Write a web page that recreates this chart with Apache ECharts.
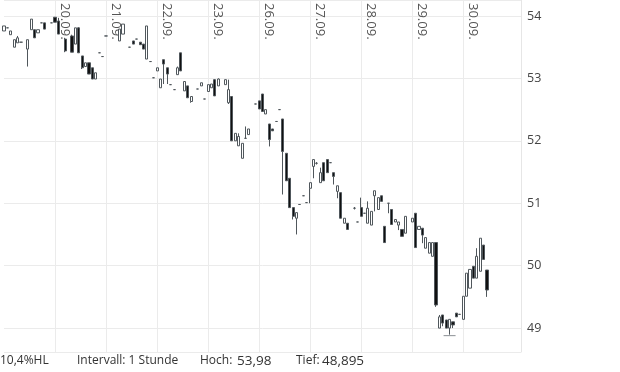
<!DOCTYPE html>
<html><head><meta charset="utf-8">
<script src="https://cdn.jsdelivr.net/npm/echarts@6/dist/echarts.min.js"></script>
<style>html,body{margin:0;padding:0;background:#fff}#c{width:620px;height:372px}</style>
</head><body><div id="c"></div>
<script>
// tick labels (one per trading day) and hourly slots per day
const days = ['19.09.','20.09.','21.09.','22.09.','23.09.','26.09.','27.09.','28.09.','29.09.','30.09.'];
const hours = [8,9,10,11,12,13,14,15,16,17,18,19,20,21,22];
const padSlots = 3;

// candles: slot index, open, close, low, high
const slots = [0,1,2,3,4,5,7,8,9,10,11,12,14,
 15,16,18,20,21,22,23,24,25,26,27,28,29,
 30,34,35,37,38,39,40,41,42,43,44,
 45,46,47,48,49,50,51,52,53,54,55,57,58,59,
 60,61,62,63,65,66,67,68,69,70,71,72,74,
 75,76,77,78,79,80,81,82,83,84,85,86,87,88,89,
 90,91,92,93,94,95,96,97,98,99,100,101,103,104,
 105,106,107,108,109,110,111,112,113,114,115,116,117,118,
 120,121,122,123,124,125,126,127,128,129,130,131,132,133,134,
 135,136,137,138,139,140,141,142];
const opens = [53.76,53.81,53.70,53.50,53.57,53.58,53.47,53.78,53.78,53.73,53.89,53.89,53.89,
 53.98,53.92,53.63,53.68,53.55,53.81,53.36,53.19,53.25,53.17,52.99,53.41,53.35,
 53.68,53.60,53.71,53.50,53.60,53.63,53.58,53.55,53.31,53.27,53.01,
 53.12,52.85,53.30,53.17,52.90,52.82,53.06,53.41,52.80,52.88,52.63,52.83,52.88,52.67,
 52.79,52.85,52.98,52.88,52.90,52.61,52.71,52.00,51.92,51.72,52.04,52.10,52.59,
 52.64,52.75,52.43,52.27,52.19,52.31,52.50,52.35,51.80,51.40,50.93,50.76,50.98,51.12,51.01,
 51.24,51.59,51.64,51.33,51.65,51.70,51.65,51.49,51.19,51.17,50.68,50.68,50.92,50.70,
 50.93,50.84,50.68,50.65,51.12,50.90,51.12,50.63,51.00,50.90,50.70,50.65,50.58,50.52,
 50.70,50.84,50.58,50.60,50.28,50.20,50.15,50.37,49.00,49.21,49.13,49.00,49.10,49.24,49.22,
 49.14,49.51,49.64,49.99,49.80,49.91,50.33,49.93];
const closes = [53.84,53.81,53.76,53.62,53.65,53.58,53.62,53.95,53.65,53.78,53.89,53.79,53.89,
 53.90,53.71,53.44,53.42,53.81,53.41,53.17,53.25,53.07,52.99,53.09,53.41,53.35,
 53.68,53.79,53.87,53.50,53.55,53.63,53.54,53.47,53.84,53.27,53.01,
 53.17,52.99,53.23,53.07,52.90,52.82,53.17,53.12,52.95,52.69,52.71,52.83,52.93,52.67,
 52.90,52.91,52.72,52.99,52.98,52.82,52.00,52.12,52.07,51.96,52.04,52.19,52.59,
 52.51,52.47,52.50,52.02,52.16,52.31,52.50,51.83,51.36,50.93,50.79,50.85,50.98,51.12,51.01,
 51.33,51.70,51.64,51.49,51.36,51.49,51.65,51.43,51.28,50.76,50.76,50.58,50.92,50.70,
 50.79,50.84,50.92,50.87,51.20,51.09,51.03,50.37,51.00,50.66,50.74,50.70,50.47,50.79,
 50.76,50.29,50.63,50.49,50.45,50.37,50.37,49.37,49.18,49.08,49.00,49.14,49.05,49.18,49.22,
 49.51,49.88,49.94,49.80,50.15,50.44,50.10,49.61];
const lows = [53.76,53.81,53.70,53.50,53.57,53.58,53.19,53.78,53.65,53.73,53.89,53.79,53.89,
 53.90,53.71,53.42,53.42,53.55,53.41,53.15,53.19,53.07,52.99,52.99,53.41,53.35,
 53.68,53.60,53.71,53.50,53.55,53.63,53.54,53.47,53.31,53.27,53.01,
 53.12,52.85,52.91,52.91,52.90,52.82,53.06,53.12,52.80,52.69,52.61,52.83,52.88,52.67,
 52.79,52.85,52.72,52.88,52.90,52.59,52.00,52.00,51.92,51.72,52.04,52.10,52.59,
 52.51,52.47,52.43,51.91,52.16,52.31,52.50,51.14,51.36,50.93,50.74,50.50,50.98,51.12,51.01,
 51.00,51.40,51.62,51.33,51.36,51.49,51.65,51.30,51.08,50.76,50.68,50.58,50.90,50.70,
 50.79,50.84,50.68,50.65,50.87,50.90,51.03,50.37,50.84,50.66,50.70,50.57,50.47,50.52,
 50.70,50.29,50.58,50.36,50.28,50.20,50.15,49.34,49.00,49.03,49.00,48.895,49.00,49.18,49.22,
 49.14,49.51,49.64,49.80,49.80,49.91,50.10,49.50];
const highs = [53.84,53.81,53.76,53.62,53.68,53.58,53.62,53.95,53.78,53.78,53.89,53.89,53.89,
 53.98,53.97,53.65,53.70,53.81,53.82,53.36,53.25,53.25,53.17,53.09,53.41,53.35,
 53.68,53.79,53.87,53.50,53.60,53.63,53.58,53.55,53.84,53.27,53.01,
 53.17,52.99,53.30,53.17,52.90,52.82,53.19,53.41,52.95,52.88,52.71,52.83,52.93,52.67,
 52.90,52.91,52.99,53.00,52.98,52.98,52.71,52.12,52.12,51.96,52.23,52.19,52.59,
 52.64,52.75,52.50,52.27,52.19,52.31,52.50,52.35,51.80,51.40,50.93,50.85,50.98,51.12,51.01,
 51.33,51.70,51.66,51.57,51.65,51.70,51.65,51.49,51.28,51.17,50.76,50.68,50.94,50.70,
 51.09,50.84,51.03,50.87,51.20,51.09,51.12,50.63,51.00,50.90,50.74,50.70,50.58,50.79,
 50.76,50.84,50.63,50.60,50.45,50.37,50.37,50.37,49.21,49.21,49.13,49.14,49.10,49.24,49.22,
 49.51,49.88,49.94,49.99,50.28,50.44,50.33,49.93];

// footer texts
const footerTexts = ['10,4%HL', 'Intervall: 1 Stunde', 'Hoch:', '53,98', 'Tief:', '48,895'];
const footerLeft = [0, 77, 200, 237, 296, 322];
const footerSize = [12, 12, 12, 13.5, 12, 13.5];

const categories = [];
days.forEach(d => hours.forEach(h => categories.push(d + ' ' + (h < 10 ? '0' : '') + h + ':00')));
for (let i = 0; i < padSlots; i++) categories.push('');
const slotsPerDay = hours.length;

const candles = categories.map(() => '-');
slots.forEach((s, k) => { candles[s] = [opens[k], closes[k], lows[k], highs[k]]; });

const dayStart = (idx) => idx > 0 && idx % slotsPerDay === 0 && idx < days.length * slotsPerDay;

const chart = echarts.init(document.getElementById('c'), null, {renderer: 'canvas'});
chart.setOption({
  animation: false,
  backgroundColor: '#fff',
  title: footerTexts.map((t, i) => ({
    text: t, left: footerLeft[i], top: 363 - Math.round(footerSize[i] * 0.7), padding: 0,
    textStyle: {fontSize: footerSize[i], fontWeight: 'normal', color: '#333', fontFamily: 'Open Sans'}
  })),
  grid: {left: 4, right: 99, top: -1, bottom: 20, containLabel: false},
  xAxis: {
    type: 'category', data: categories, boundaryGap: false, position: 'top',
    axisLine: {show: false}, axisTick: {show: false},
    axisLabel: {
      inside: true, rotate: 90, interval: dayStart, margin: 3,
      formatter: v => v.split(' ')[0], padding: [0, 0, 3, 0],
      color: '#555', fontSize: 13, fontFamily: 'Open Sans', verticalAlign: 'bottom'
    },
    splitLine: {show: true, interval: dayStart, lineStyle: {color: '#ebebeb', width: 1}}
  },
  yAxis: {
    type: 'value', position: 'right', min: 48.617, max: 54.256, splitNumber: 5,
    axisLine: {show: true, lineStyle: {color: '#e6e6e6'}}, axisTick: {show: false},
    axisLabel: {color: '#444', fontSize: 12.5, fontFamily: 'Open Sans', margin: 6,
      showMinLabel: false, showMaxLabel: false},
    splitLine: {show: true, lineStyle: {color: '#ebebeb', width: 1}}
  },
  series: [{
    type: 'candlestick', data: candles, barWidth: 2.6, clip: false,
    itemStyle: {color: '#ffffff', color0: '#111111', borderColor: '#50575c',
      borderColor0: '#50575c', borderColorDoji: '#50575c', borderWidth: 1},
    markPoint: {
      symbol: 'rect', symbolSize: [12, 1], symbolOffset: [0, 1], silent: true,
      itemStyle: {color: '#8a8f93'}, label: {show: false},
      data: [{type: 'min', valueDim: 'lowest'}]
    }
  }]
});
</script>
</body></html>
